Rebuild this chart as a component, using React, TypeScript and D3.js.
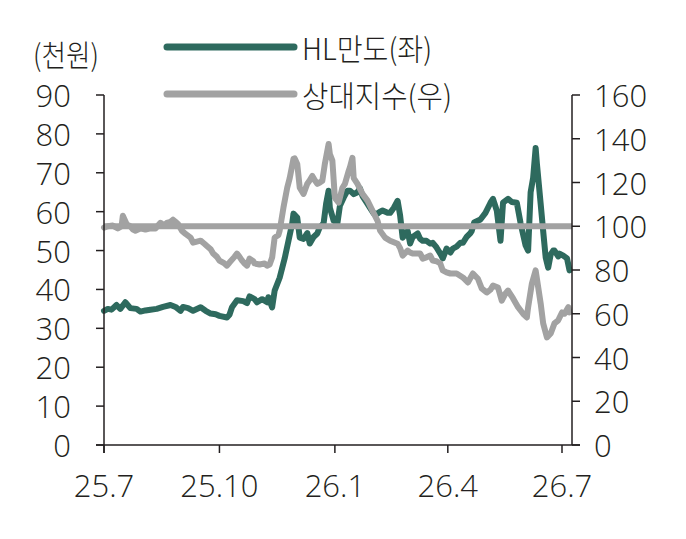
import React from "react";
import * as d3 from "d3";

const mandoDates = [
  "2025-07-01","2025-07-04","2025-07-07","2025-07-11","2025-07-14","2025-07-18","2025-07-22","2025-07-27","2025-07-30",
  "2025-08-03","2025-08-07","2025-08-12","2025-08-17","2025-08-23","2025-08-27","2025-08-31",
  "2025-09-02","2025-09-06","2025-09-10","2025-09-16","2025-09-20","2025-09-24","2025-09-28",
  "2025-10-01","2025-10-07","2025-10-09","2025-10-11","2025-10-15","2025-10-20","2025-10-23","2025-10-25","2025-10-29","2025-10-31",
  "2025-11-04","2025-11-08","2025-11-09","2025-11-12","2025-11-14","2025-11-18","2025-11-22","2025-11-25","2025-11-28","2025-11-29",
  "2025-12-02","2025-12-04","2025-12-07","2025-12-10","2025-12-12","2025-12-15","2025-12-18","2025-12-20","2025-12-23","2025-12-25","2025-12-27","2025-12-28","2025-12-31",
  "2026-01-03","2026-01-05","2026-01-08","2026-01-11","2026-01-13","2026-01-16","2026-01-19","2026-01-21","2026-01-23","2026-01-27","2026-01-29",
  "2026-02-01","2026-02-04","2026-02-06","2026-02-08","2026-02-12","2026-02-14","2026-02-17","2026-02-20","2026-02-22","2026-02-24","2026-02-28",
  "2026-03-02","2026-03-04","2026-03-08","2026-03-10","2026-03-12","2026-03-15","2026-03-18","2026-03-20","2026-03-23","2026-03-26","2026-03-28","2026-03-31",
  "2026-04-03","2026-04-05","2026-04-08","2026-04-11","2026-04-13","2026-04-16","2026-04-19","2026-04-20","2026-04-22","2026-04-27",
  "2026-05-01","2026-05-05","2026-05-07","2026-05-10","2026-05-13","2026-05-15","2026-05-19","2026-05-22","2026-05-26","2026-05-29",
  "2026-06-02","2026-06-04","2026-06-06","2026-06-08","2026-06-10","2026-06-11","2026-06-14","2026-06-16","2026-06-18","2026-06-20","2026-06-22","2026-06-24","2026-06-25","2026-06-28","2026-06-29",
  "2026-07-02","2026-07-05","2026-07-07"
];
const mandoValues = [
  34.5,35,34.8,36,35,36.7,35.2,35,34.3,
  34.6,34.8,35,35.5,36,35.5,34.5,
  35.5,35.2,34.5,35.4,34.5,33.8,33.6,
  33.2,32.8,33.5,35.4,37.2,37,36.5,38.2,37.5,36.7,
  37.5,36.7,38,35.4,39.7,43,48,52.5,57,59.5,
  58.5,53.3,53,54.5,51.8,53.5,54.4,56,57,62,65.4,61,57.7,
  57,61.5,63.6,65.4,65.4,64.5,65,66,64,62,61,
  59.5,59.5,60,60.3,59.7,59.7,61,62.8,59,53.3,55,
  51.8,53.5,54.4,53,52.5,52.5,51.8,52,50.8,49.2,48,50.5,
  49.5,50.5,51,52,52,53.5,54.5,55,57.2,58,
  59.7,62.3,63.3,60.3,52.5,62.3,63.3,62.5,62.3,57,
  51.3,50,65,68.7,76.4,72.3,62,55,48.2,45.6,49,50,50,48.5,49.2,
  48.7,48,44.9
];

const relDates = [
  "2025-07-01","2025-07-04","2025-07-08","2025-07-12","2025-07-15","2025-07-16","2025-07-19","2025-07-22","2025-07-24","2025-07-26","2025-07-30",
  "2025-08-03","2025-08-07","2025-08-11","2025-08-15","2025-08-18","2025-08-20","2025-08-23","2025-08-25","2025-08-27","2025-08-29",
  "2025-09-01","2025-09-04","2025-09-08","2025-09-10","2025-09-13","2025-09-16","2025-09-19","2025-09-21","2025-09-24","2025-09-26","2025-09-29",
  "2025-10-01","2025-10-05","2025-10-07","2025-10-09","2025-10-13","2025-10-15","2025-10-17","2025-10-19","2025-10-21","2025-10-23","2025-10-25","2025-10-28","2025-10-29",
  "2025-11-02","2025-11-06","2025-11-08","2025-11-10","2025-11-12","2025-11-14","2025-11-17","2025-11-18","2025-11-21","2025-11-24","2025-11-26","2025-11-29","2025-11-30",
  "2025-12-02","2025-12-04","2025-12-07","2025-12-10","2025-12-12","2025-12-14","2025-12-16","2025-12-18","2025-12-20","2025-12-22","2025-12-24","2025-12-27","2025-12-28","2025-12-30",
  "2026-01-01","2026-01-04","2026-01-07","2026-01-09","2026-01-12","2026-01-13","2026-01-15","2026-01-16","2026-01-19","2026-01-23","2026-01-27","2026-01-31",
  "2026-02-04","2026-02-06","2026-02-10","2026-02-14","2026-02-20","2026-02-22","2026-02-24","2026-02-28",
  "2026-03-02","2026-03-04","2026-03-08","2026-03-10","2026-03-12","2026-03-15","2026-03-18","2026-03-20","2026-03-23","2026-03-26","2026-03-28","2026-03-31",
  "2026-04-03","2026-04-08","2026-04-13","2026-04-17","2026-04-21","2026-04-25","2026-04-28",
  "2026-05-02","2026-05-05","2026-05-07","2026-05-11","2026-05-14","2026-05-17","2026-05-19","2026-05-23","2026-05-27","2026-05-31",
  "2026-06-03","2026-06-04","2026-06-07","2026-06-10","2026-06-11","2026-06-14","2026-06-16","2026-06-19","2026-06-22","2026-06-25","2026-06-28",
  "2026-07-01","2026-07-03","2026-07-06","2026-07-07"
];
const relValues = [
  99.4,100,100.3,99,100,104.8,101,100,98.5,98,99,
  98.5,99,99,101.6,100.5,101.5,102,103,102,101,
  98,96.5,94.8,92.5,93,93.4,92,91,89.5,87.5,86,
  84.3,83,82,83.4,86,87.5,86,84.3,83,82,85.2,84,83,
  82.5,83,82,82.5,85.7,94.8,96,98,108.5,117.6,122,130.8,131,
  128.5,117.6,114.8,119.4,121,123,121,119.4,120,120.8,128.5,137.6,133,130,
  113,110.8,117.6,119.4,125.3,127,131.3,122,119.4,114.8,111.7,107,
  102.5,98,94.8,93.4,92,90,86.6,88.9,
  88,87.5,87.5,87.5,85.2,85.8,86.6,84.3,84,83,79.8,78.9,
  78.4,78.4,76.6,74.3,78.4,76,71.6,
  69.7,71,72.9,72,66,69.3,70.6,67,63,60,
  58.3,63,73.8,79.8,76,64.7,55.6,49.2,51,55.6,57,
  60.6,60,63,60.6
];

const xTickDates = ["2025-07-01", "2025-10-01", "2026-01-01", "2026-04-01", "2026-07-01"];
const xTickLabels = ["25.7", "25.10", "26.1", "26.4", "26.7"];
const leftTicks = [0, 10, 20, 30, 40, 50, 60, 70, 80, 90];
const rightTicks = [0, 20, 40, 60, 80, 100, 120, 140, 160];
const baseValue = 100;
const seriesNames = ["HL만도(좌)", "상대지수(우)"];
const leftUnit = "(천원)";

const W = 686;
const H = 539;
const L = 104;
const R = 572;
const T = 95;
const B = 445;
const TICK = 8;

const TEAL = "#2e6a5e";
const GREY = "#a2a2a2";
const AXIS = "#231f20";
const NUM_FONT = "'Open Sans', 'Noto Sans', sans-serif";
const KO_FONT = "'Noto Sans CJK KR', sans-serif";

export default function App() {
  const parse = d3.utcParse("%Y-%m-%d");
  const x = d3
    .scaleUtc()
    .domain([parse("2025-07-01")!, parse("2026-07-01")!])
    .range([L, 562]);
  const yL = d3.scaleLinear().domain([0, 90]).range([B, T]);
  const yR = d3.scaleLinear().domain([0, 160]).range([B, T]);

  const mando = mandoDates.map((d, i) => ({ d: parse(d)!, v: mandoValues[i] }));
  const rel = relDates.map((d, i) => ({ d: parse(d)!, v: relValues[i] }));

  const lineL = d3
    .line<{ d: Date; v: number }>()
    .x((p) => x(p.d))
    .y((p) => yL(p.v));
  const lineR = d3
    .line<{ d: Date; v: number }>()
    .x((p) => x(p.d))
    .y((p) => yR(p.v));

  const numStyle = {
    fontFamily: NUM_FONT,
    fontSize: 31,
    fontWeight: 300,
    fill: AXIS,
  } as const;
  const koStyle = {
    fontFamily: KO_FONT,
    fontSize: 30,
    fontWeight: 300,
    fill: AXIS,
  } as const;

  return (
    <svg
      width={W}
      height={H}
      viewBox={`0 0 ${W} ${H}`}
      style={{ position: "absolute", left: 0, top: 0, background: "#fff" }}
    >
      <rect x={0} y={0} width={W} height={H} fill="#fff" />
      <text x={33} y={53} dominantBaseline="central" style={koStyle} textLength={66} lengthAdjust="spacingAndGlyphs">
        {leftUnit}
      </text>
      <line x1={167} x2={294} y1={47} y2={47} stroke={TEAL} strokeWidth={7} strokeLinecap="round" />
      <text x={302} y={47} dominantBaseline="central" style={koStyle} textLength={130} lengthAdjust="spacingAndGlyphs">
        {seriesNames[0]}
      </text>
      <line x1={167} x2={294} y1={94} y2={94} stroke={GREY} strokeWidth={7} strokeLinecap="round" />
      <text x={302} y={94} dominantBaseline="central" style={koStyle} textLength={150} lengthAdjust="spacingAndGlyphs">
        {seriesNames[1]}
      </text>

      <path d={lineL(mando) ?? ""} fill="none" stroke={TEAL} strokeWidth={6} strokeLinejoin="round" strokeLinecap="round" />
      <path d={lineR(rel) ?? ""} fill="none" stroke={GREY} strokeWidth={6} strokeLinejoin="round" strokeLinecap="round" />
      <line x1={L} x2={R} y1={yR(baseValue)} y2={yR(baseValue)} stroke={GREY} strokeWidth={6} />

      <line x1={L} x2={L} y1={T} y2={B + TICK} stroke={AXIS} strokeWidth={1.5} />
      <line x1={R} x2={R} y1={T} y2={B} stroke={AXIS} strokeWidth={1.5} />
      <line x1={L - TICK} x2={R + TICK} y1={B} y2={B} stroke={AXIS} strokeWidth={1.5} />
      {leftTicks.map((t) => (
        <g key={"l" + t}>
          <line x1={L - TICK} x2={L} y1={yL(t)} y2={yL(t)} stroke={AXIS} strokeWidth={1.5} />
          <text x={71} y={yL(t)} textAnchor="end" dominantBaseline="central" style={numStyle}>
            {t}
          </text>
        </g>
      ))}
      {rightTicks.map((t) => (
        <g key={"r" + t}>
          <line x1={R} x2={R + TICK} y1={yR(t)} y2={yR(t)} stroke={AXIS} strokeWidth={1.5} />
          <text x={594} y={yR(t)} textAnchor="start" dominantBaseline="central" style={numStyle}>
            {t}
          </text>
        </g>
      ))}
      {xTickDates.map((d, i) => (
        <g key={"x" + d}>
          <line x1={x(parse(d)!)} x2={x(parse(d)!)} y1={B} y2={B + TICK} stroke={AXIS} strokeWidth={1.5} />
          <text x={x(parse(d)!)} y={485} textAnchor="middle" dominantBaseline="central" style={numStyle}>
            {xTickLabels[i]}
          </text>
        </g>
      ))}
    </svg>
  );
}
